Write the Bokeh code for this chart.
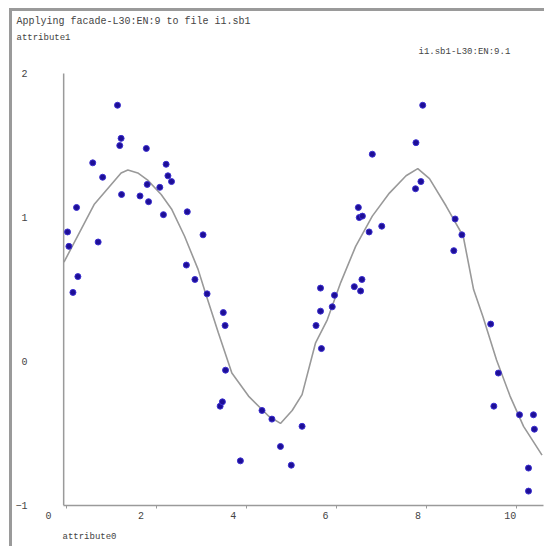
from bokeh.plotting import figure
from bokeh.models import FixedTicker, Title, LinearAxis, Range1d, Label
from bokeh.embed import file_html
from bokeh.resources import INLINE

# ---- data ----
pts_x = [1.14, 1.22, 1.19, 1.78, 0.59, 2.22, 2.26, 2.34, 0.81, 1.80, 2.08, 1.23, 1.64, 1.83,
         0.23, 2.69, 2.16, 3.04, 0.03, 0.06, 0.71, 2.67, 0.26, 2.86, 0.15, 3.13, 3.49, 3.53,
         3.54, 3.42, 3.47, 4.35, 4.57, 4.76, 3.87, 5.00, 5.24,
         7.92, 7.77, 6.80, 7.88, 7.76, 6.49, 6.51, 6.58, 8.64, 8.79, 7.01, 6.73, 8.61, 6.57,
         6.40, 6.54, 5.65, 5.96, 5.65, 5.91, 5.55, 5.67, 9.43, 9.60, 9.50, 10.07, 10.38,
         10.40, 10.27, 10.27]
pts_y = [1.78, 1.55, 1.50, 1.48, 1.38, 1.37, 1.29, 1.25, 1.28, 1.23, 1.21, 1.16, 1.15, 1.11,
         1.07, 1.04, 1.02, 0.88, 0.90, 0.80, 0.83, 0.67, 0.59, 0.57, 0.48, 0.47, 0.34, 0.25,
         -0.06, -0.31, -0.28, -0.34, -0.40, -0.59, -0.69, -0.72, -0.45,
         1.78, 1.52, 1.44, 1.25, 1.20, 1.07, 1.00, 1.01, 0.99, 0.88, 0.94, 0.90, 0.77, 0.57,
         0.52, 0.49, 0.51, 0.46, 0.35, 0.38, 0.25, 0.09, 0.26, -0.08, -0.31, -0.37, -0.37,
         -0.47, -0.74, -0.90]

curve_x = [-0.05, 0.62, 1.22, 1.37, 1.59, 1.81, 2.11, 2.34, 2.63, 2.93, 3.08, 3.38, 3.68,
           4.05, 4.50, 4.76, 5.02, 5.24, 5.54, 5.80, 6.10, 6.43, 6.80, 7.18, 7.55, 7.81,
           8.07, 8.44, 8.82, 9.05, 9.26, 9.56, 9.86, 10.16, 10.57]
curve_y = [0.69, 1.09, 1.31, 1.33, 1.31, 1.26, 1.16, 1.06, 0.87, 0.64, 0.49, 0.20, -0.08,
           -0.24, -0.38, -0.43, -0.34, -0.23, 0.13, 0.29, 0.55, 0.80, 1.01, 1.17, 1.29, 1.34,
           1.27, 1.08, 0.87, 0.50, 0.31, 0.01, -0.24, -0.45, -0.65]

x_ticks = [0, 2, 4, 6, 8, 10]
y_ticks = [-1, 0, 1, 2]

title_text = "Applying facade-L30:EN:9 to file i1.sb1"
series_name = "i1.sb1-L30:EN:9.1"
x_name = "attribute0"
y_name = "attribute1"

# axis extents
x_axis_min, x_axis_max = -0.056, 10.603
y_axis_min, y_axis_max = -1, 2

W, H = 535, 538
FONT = "Liberation Mono"
TXT = "#444444"
AX = "#9a9a9a"

p = figure(width=W, height=H, output_backend="svg", toolbar_location=None, title=None,
           x_range=(-0.615, x_axis_max), y_range=(y_axis_min, 2.195),
           min_border_left=26, min_border_right=4, min_border_top=34, min_border_bottom=44)
p.styles = {"margin-left": "9px", "margin-top": "8px",
            "border-top": "3px solid " + AX, "border-left": "3px solid " + AX,
            "box-sizing": "border-box"}
p.background_fill_color = "white"
p.border_fill_color = "white"
p.outline_line_color = None
p.grid.visible = False

# ---- x axis: line + tick marks (no labels on this one) ----
xa = p.xaxis[0]
xa.ticker = FixedTicker(ticks=[], minor_ticks=x_ticks)
xa.bounds = (x_axis_min, x_axis_max)
xa.axis_line_color = AX
xa.axis_line_width = 1.5
xa.major_tick_line_color = None
xa.minor_tick_line_color = AX
xa.minor_tick_in = 0
xa.minor_tick_out = 3
xa.major_label_standoff = 0

# x tick labels on their own label scale
p.extra_x_ranges = {"lab": Range1d(-0.218, 10.719)}
lab_axis = LinearAxis(x_range_name="lab", ticker=FixedTicker(ticks=x_ticks),
                      axis_line_color=None, major_tick_line_color=None,
                      minor_tick_line_color=None, major_label_standoff=-3,
                      major_label_text_font=FONT, major_label_text_font_size="10px",
                      major_label_text_color=TXT)
p.add_layout(lab_axis, "below")

# ---- y axis: labels on the left, line drawn at x_axis_min ----
ya = p.yaxis[0]
ya.ticker = FixedTicker(ticks=y_ticks)
ya.axis_line_color = None
ya.major_tick_line_color = None
ya.minor_tick_line_color = None
ya.major_label_standoff = 5
ya.major_label_text_baseline = "top"
ya.major_label_text_font = FONT
ya.major_label_text_font_size = "10px"
ya.major_label_text_color = TXT
p.segment(x0=[x_axis_min], y0=[y_axis_min], x1=[x_axis_min], y1=[y_axis_max],
          line_color=AX, line_width=1.5)

p.line(curve_x, curve_y, line_color="#999999", line_width=1.6)
p.scatter(pts_x, pts_y, size=6, fill_color="#1d0e96", line_color="#3b2fd0", line_width=1)

# series name (legend text) at the top right of the plot area
p.add_layout(Label(x=380, y=454, x_units="screen", y_units="screen", text=series_name,
                   text_font=FONT, text_font_size="9px", text_color=TXT,
                   text_baseline="middle", text_align="left"))

def ttl(text, side, offset, standoff, size):
    t = Title(text=text, align="left", offset=offset, standoff=standoff,
              text_font=FONT, text_font_size=size, text_color=TXT,
              text_font_style="normal")
    p.add_layout(t, side)

# above: nearest to the frame first
ttl(y_name, "above", -22, 5.5, "9px")
ttl(title_text, "above", -22, 2, "10px")
ttl(x_name, "below", 24, 16, "9px")

open("out.html", "w").write(file_html(p, INLINE))
